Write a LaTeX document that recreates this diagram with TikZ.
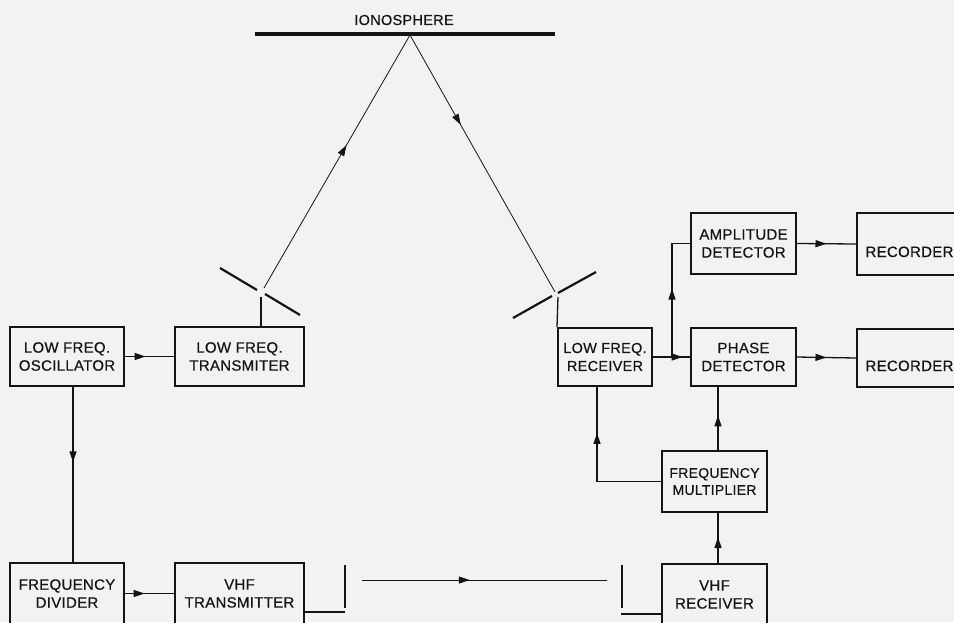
\documentclass[tikz,border=0pt]{standalone}
\usepackage{fontspec}
\setmainfont{Liberation Sans}
\newfontfamily\boxfont{Liberation Sans}[LetterSpace=2,FakeBold=0.5]
\usetikzlibrary{arrows.meta,decorations.markings}
\definecolor{ink}{rgb}{0.08,0.08,0.08}
\definecolor{paper}{rgb}{0.95,0.95,0.945}

\begin{document}
\begin{tikzpicture}[x=1pt,y=-1pt,
  box/.style={draw=ink,line width=2pt,minimum width=105pt,minimum height=60pt,
    inner sep=0pt,align=center,text=ink,font=\boxfont\fontsize{15}{18}\selectfont},
  wire/.style={draw=ink,color=ink,line width=1.3pt},
  ray/.style={draw=ink,color=ink,line width=0.8pt},
  aerial/.style={draw=ink,line width=2.2pt},
  flow/.style={postaction={decorate,decoration={markings,
    mark=at position #1 with {\arrow{Triangle[length=11pt,width=7pt]}}}}},
  flow/.default=0.5]
\useasboundingbox (0,0) rectangle (954,622);
\fill [paper] (0,0) rectangle (954,622);
\clip (0,0) rectangle (954,622);

% ionosphere
\draw [ink,line width=3.5pt] (255,34) -- (555,34);
\node [text=ink,font=\boxfont\fontsize{14.5}{17}\selectfont] (iono) at (404,20) {IONOSPHERE};
\coordinate (apex) at (410,35);

% low frequency chain
\node [box,minimum width=114pt,minimum height=59pt] (osc) at (67,356.5) {LOW FREQ.\\OSCILLATOR};
\node [box,minimum width=129pt,minimum height=59pt] (lftx) at (239.5,356.5) {LOW FREQ.\\TRANSMITER};
\node [box,minimum width=94pt,minimum height=58pt,font=\boxfont\fontsize{14.5}{18}\selectfont] (lfrx) at (605,357) {LOW FREQ.\\RECEIVER};
\node [box,minimum height=58pt] (phase) at (743.5,357) {PHASE\\DETECTOR};
\node [box,minimum height=61pt] (amp) at (743.5,243.5) {AMPLITUDE\\DETECTOR};
\node [box,minimum height=62pt,text height=26pt,text depth=0pt] (rec1) at (909.5,244) {RECORDER};
\node [box,minimum height=58pt,text height=26pt,text depth=0pt] (rec2) at (909.5,358) {RECORDER};
\node [box,minimum height=61pt,font=\boxfont\fontsize{14}{17}\selectfont] (mult) at (714.5,481.5) {FREQUENCY\\MULTIPLIER};

% vhf chain
\node [box,minimum width=114pt,minimum height=61pt] (div) at (67,593.5) {FREQUENCY\\DIVIDER};
\node [box,minimum width=129pt,minimum height=61pt] (vhftx) at (239.5,593.5) {VHF\\TRANSMITTER};
\node [box,minimum height=61pt] (vhfrx) at (714.5,594.5) {VHF\\RECEIVER};

% aerials
\coordinate (txant) at (261,297);
\coordinate (txfeed) at (264,288);
\draw [aerial] (220,268) -- (257,290);
\draw [aerial] (265,294) -- (300,315);
\draw [wire] (lftx.north -| txant) -- (txant);
\coordinate (rxant) at (558,297);
\coordinate (rxfeed) at (555,292);
\draw [aerial] (513,318) -- (552,296);
\draw [aerial] (558,293) -- (596,272);
\draw [wire] (lfrx.north west) -- (rxant);
\coordinate (vtxfeed) at (345,612);
\draw [aerial] (345,565) -- (345,608);
\draw [wire] (vtxfeed -| vhftx.east) -- (vtxfeed);
\coordinate (vrxfeed) at (621,614);
\draw [aerial] (622,565) -- (622,608);
\draw [wire] (vrxfeed) -- (vrxfeed -| vhfrx.west);

% sky wave and vhf link
\draw [ray,flow=0.565] (txfeed) -- (apex);
\draw [ray,flow=0.35] (apex) -- (rxfeed);
\coordinate (linkstart) at (362,580);
\coordinate (linkend) at (607,580);
\draw [ray,line width=1pt,flow=0.44] (linkstart) -- (linkend);

% connections
\draw [wire,flow=0.42] (osc.east) -- (lftx.west);
\draw [wire,flow=0.43] ([xshift=6pt]osc.south) -- ([xshift=6pt]div.north);
\draw [wire,flow=0.4] (div.east) -- (vhftx.west);
\coordinate (split) at (672,357);
\draw [wire,flow=0.8] (lfrx.east) -- (phase.west);
\draw [wire,flow=0.52] (split) |- (amp.west);
\draw [wire,flow=0.5] (amp.east) -- (rec1.west);
\draw [wire,flow=0.5] (phase.east) -- (rec2.west);
\draw [wire,flow=0.55] ([xshift=3.5pt]mult.north) -- ([xshift=3.5pt]mult.north |- phase.south);
\draw [wire,flow=0.52] ([xshift=3.5pt]vhfrx.north) -- ([xshift=3.5pt]mult.south);
\draw [wire,flow=0.71] (mult.west) -| ([xshift=-8pt]lfrx.south);
\end{tikzpicture}
\end{document}
